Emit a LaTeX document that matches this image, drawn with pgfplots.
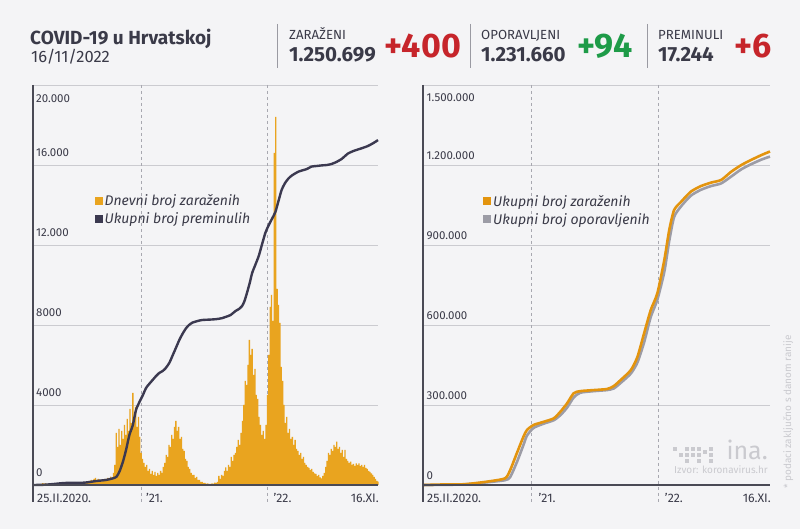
\documentclass[border=0pt]{standalone}
\usepackage{pgfplots}
\pgfplotsset{compat=1.18}
\usepackage{fontspec}
\setmainfont{Fira Sans}
\definecolor{bgc}{HTML}{F4F4F6}
\definecolor{textc}{HTML}{3A3A48}
\definecolor{casec}{HTML}{E9A41F}
\definecolor{deathc}{HTML}{3B3950}
\definecolor{cumc}{HTML}{E3940E}
\definecolor{recc}{HTML}{9C9CA6}
\definecolor{gridc}{HTML}{CBCBD0}
\definecolor{axisc}{HTML}{4A4A55}
\definecolor{dashc}{HTML}{A8A8B0}
\definecolor{redc}{HTML}{C6252B}
\definecolor{greenc}{HTML}{1E9B48}
\definecolor{sepc}{HTML}{9A9AA2}
\definecolor{lightc}{HTML}{CACACF}
\newcommand{\fs}[1]{\fontsize{#1}{#1}\selectfont}
\tikzset{tl/.style={anchor=base west, inner sep=0, text=textc, font=\fs{11.5}},
         tr/.style={anchor=base east, inner sep=0, text=textc, font=\fs{11.5}},
         xl/.style={anchor=base west, inner sep=0, text=textc, font=\fs{12.3}},
         xr/.style={anchor=base east, inner sep=0, text=textc, font=\fs{12.3}}}
\pgfplotsset{myax/.style={anchor=south west, scale only axis, height=400pt,
  xmin=0, xmax=995, ymin=0, axis line style={draw=none}, xtick=\empty,
  yticklabels={}, scaled y ticks=false, major tick length=0pt, ymajorgrids,
  grid style={gridc, line width=0.8pt}, clip=false,
  legend style={anchor=north west, draw=none, fill=none,
    font=\fs{14}\itshape, text=textc, row sep=1.5pt, inner sep=0pt,
    cells={anchor=west}},
  legend image code/.code={\fill[##1, draw=none] (0pt,-4pt) rectangle (8pt,4pt);}}}
\begin{document}
\begin{tikzpicture}[x=1pt,y=1pt]
\fill[bgc] (0pt,0pt) rectangle (800pt,529pt);
% header
\node[anchor=base west, inner sep=0, text=textc, font=\fs{19}\bfseries] at (30pt,484pt) {COVID-19 u Hrvatskoj};
\node[anchor=base west, inner sep=0, text=textc, font=\fs{16.5}] at (31pt,466pt) {16/11/2022};
\draw[sepc, line width=0.8pt] (277pt,505pt) -- (277pt,461pt);
\draw[sepc, line width=0.8pt] (470pt,505pt) -- (470pt,461pt);
\draw[sepc, line width=0.8pt] (647pt,505pt) -- (647pt,461pt);
\node[anchor=base west, inner sep=0, text=textc, font=\fs{13.2}] at (289pt,489pt) {ZARAŽENI};
\node[anchor=base west, inner sep=0, text=textc, font=\fs{20.5}\bfseries] at (289pt,467pt) {1.250.699};
\node[anchor=base west, inner sep=0, text=redc, font=\fs{34}\bfseries] at (384pt,471pt) {+400};
\node[anchor=base west, inner sep=0, text=textc, font=\fs{13.2}] at (481pt,489pt) {OPORAVLJENI};
\node[anchor=base west, inner sep=0, text=textc, font=\fs{20.5}\bfseries] at (481pt,467pt) {1.231.660};
\node[anchor=base west, inner sep=0, text=greenc, font=\fs{34}\bfseries] at (577pt,471pt) {+94};
\node[anchor=base west, inner sep=0, text=textc, font=\fs{13.2}] at (658pt,489pt) {PREMINULI};
\node[anchor=base west, inner sep=0, text=textc, font=\fs{20.5}\bfseries] at (658pt,467pt) {17.244};
\node[anchor=base west, inner sep=0, text=redc, font=\fs{34}\bfseries] at (734pt,471pt) {+6};
% source, logo, note
\node[anchor=base east, inner sep=0, text=lightc, font=\fs{10}] at (768pt,55pt) {Izvor: koronavirus.hr};
\node[anchor=base east, inner sep=0, text=lightc, font=\fs{25}] at (768pt,69pt) {ina.};
\foreach \px/\py in {673/78,679/72,685/78,685/72,691/78,691/72,697/78,697/72,703/75,709/78,709/72,697/66,709/66,685/66}
  \fill[lightc] (\px pt,\py pt) rectangle ++(4pt,4pt);
\node[rotate=90, anchor=base west, inner sep=0, text=lightc, font=\fs{10}] at (791pt,40pt) {* podaci zaključno s danom ranije};
% ---------------- left axis
\begin{axis}[myax, at={(33pt,44pt)}, width=345pt, ymax=20000,
  ytick={0,4000,8000,12000,16000,20000},
  legend style={at={(0.178,0.732)}}]
\draw[dashc, dash pattern=on 3pt off 3pt, line width=0.6pt] (axis cs:311,20000) -- ([yshift=-17pt]axis cs:311,0);
\draw[dashc, dash pattern=on 3pt off 3pt, line width=0.6pt] (axis cs:676,20000) -- ([yshift=-17pt]axis cs:676,0);
\addplot[ybar, bar width=1.3pt, fill=casec, draw=none, forget plot] coordinates {
(0,1)(4,3)(8,8)(12,10)(16,20)(20,40)(24,60)(28,90)(32,70)(36,80)(40,60)(44,50)(48,40)(52,30)(56,20)(60,15)(64,10)(68,5)(72,5)(76,3)(80,2)(84,2)(88,1)(92,3)(96,5)(100,2)(104,5)(108,10)(112,20)(116,60)(120,80)(124,70)(128,90)(132,120)(136,100)(140,80)(144,60)(148,110)(152,140)(156,180)(160,150)(164,200)(168,250)(172,220)(176,300)(180,350)(184,220)(188,300)(192,250)(196,260)(200,180)(204,230)(208,300)(212,240)(216,360)(220,280)(224,420)(228,360)(232,600)
(236,1000)(240,2600)(244,1900)(248,2800)(252,2000)(256,2700)(260,2300)(264,3000)(268,2500)(272,3300)(276,2700)(280,3800)(284,3100)(288,4600)(292,3400)(296,3900)(300,2900)(304,3400)(308,2400)(312,1600)(316,1300)(320,1100)(324,900)(328,1000)(332,700)(336,800)(340,550)(344,700)(348,500)(352,650)(356,450)(360,600)(364,500)(368,700)(372,600)(376,900)(380,1100)(384,1500)(388,1400)(392,2000)(396,1900)(400,2500)(404,2300)(408,2900)(412,3200)(416,2700)(420,2900)(424,2300)(428,2400)(432,1800)(436,1700)(440,1300)(444,1200)(448,900)(452,800)(456,600)(460,500)
(464,500)(468,350)(472,400)(476,250)(480,250)(484,150)(488,150)(492,100)(496,110)(500,70)(504,80)(508,50)(512,60)(516,80)(520,70)(524,120)(528,100)(532,150)(536,460)(540,300)(544,500)(548,450)(552,700)(556,880)(560,700)(564,1000)(568,900)(572,1400)(576,1200)(580,1500)(584,1600)(588,1900)(592,2250)(596,2000)(600,2600)(604,3200)(608,4000)(612,5200)(616,5000)(620,6000)(624,7250)(628,6500)(632,6800)(636,5500)(640,5800)(644,4500)(648,4300)(652,3400)(656,3000)(660,2500)(664,2700)(668,2300)(672,3000)(676,4500)(680,6500)(684,8900)(688,9500)(692,8200)(696,16600)(700,18400)(704,9800)(708,9000)(712,8100)(716,5900)(720,5200)(724,4000)(728,3100)(732,3400)(736,2600)(740,2800)(744,2300)(748,2400)(752,2000)(756,2250)(760,1800)(764,1700)(768,1500)(772,1600)(776,1300)(780,1400)(784,1100)(788,1000)(792,900)(796,850)(800,750)(804,800)(808,650)(812,580)(816,550)(820,450)(824,500)(828,380)(832,330)(836,450)(840,600)(844,900)(848,1200)(852,1600)(856,1500)(860,1800)(864,1700)(868,2000)(872,1900)(876,2170)(880,1800)(884,1900)(888,1600)(892,1750)(896,1400)(900,1750)(904,1300)(908,1200)(912,1100)(916,1170)(920,1000)(924,1050)(928,950)(932,1080)(936,1000)(940,1080)(944,950)(948,1000)(952,900)(956,1000)(960,850)(964,800)(968,700)(972,650)(976,580)(980,500)(984,400)(988,300)(992,200)(995,170)
};
\addplot[deathc, line width=2.4pt, smooth, tension=0.4, forget plot] coordinates {
(0,0)(30,10)(60,50)(90,100)(120,107)(150,120)(183,200)(210,250)(230,330)(241,415)(250,700)(260,1200)(269,1800)(278,2500)(288,3000)(297,3750)(307,4150)(317,4500)(326,4850)(335,5050)(345,5250)(355,5450)(364,5600)(374,5700)(383,5850)(393,6100)(402,6450)(412,6850)(422,7250)(431,7550)(441,7830)(450,8000)(460,8120)(475,8200)(488,8250)(510,8270)(527,8290)(545,8340)(555,8400)(570,8500)(584,8700)(594,8800)(603,8950)(610,9200)(617,9600)(625,10100)(632,10600)(641,11000)(651,11450)(660,12000)(670,12600)(680,13000)(689,13300)(699,13650)(708,14200)(717,14750)(727,15100)(737,15330)(747,15480)(766,15670)(790,15800)(803,15920)(818,15950)(833,15980)(848,16000)(861,16050)(875,16150)(890,16300)(900,16450)(909,16580)(924,16700)(938,16780)(952,16860)(966,16950)(980,17080)(995,17244)
};
\addlegendimage{fill=casec}
\addlegendentry{Dnevni broj zaraženih}
\addlegendimage{fill=deathc}
\addlegendentry{Ukupni broj preminulih}
\draw[axisc, line width=1.2pt] (axis cs:0,20000) -- ([yshift=-17pt]axis cs:0,0);
\draw[axisc, line width=1.5pt] (axis cs:0,0) -- (axis cs:995,0);
\node[tl] at ([xshift=3pt,yshift=8.5pt]axis cs:0,0) {0};
\node[tl] at ([xshift=3pt,yshift=8.5pt]axis cs:0,4000) {4000};
\node[tl] at ([xshift=3pt,yshift=8.5pt]axis cs:0,8000) {8000};
\node[tl] at ([xshift=3pt,yshift=8.5pt]axis cs:0,12000) {12.000};
\node[tl] at ([xshift=3pt,yshift=8.5pt]axis cs:0,16000) {16.000};
\node[tl] at ([xshift=3pt,yshift=-18pt]axis cs:0,20000) {20.000};
\node[xl] at ([xshift=4pt,yshift=-18pt]axis cs:0,0) {25.II.2020.};
\node[xl] at ([xshift=5pt,yshift=-18pt]axis cs:311,0) {’21.};
\node[xl] at ([xshift=6pt,yshift=-18pt]axis cs:676,0) {’22.};
\node[xr] at ([xshift=1pt,yshift=-18pt]axis cs:995,0) {16.XI.};
\end{axis}
% ---------------- right axis
\begin{axis}[myax, at={(423pt,44pt)}, width=347pt, ymax=1500000,
  ytick={0,300000,600000,900000,1200000,1500000},
  legend style={at={(0.173,0.73)}}]
\draw[dashc, dash pattern=on 3pt off 3pt, line width=0.6pt] (axis cs:311,1500000) -- ([yshift=-17pt]axis cs:311,0);
\draw[dashc, dash pattern=on 3pt off 3pt, line width=0.6pt] (axis cs:676,1500000) -- ([yshift=-17pt]axis cs:676,0);
\addplot[recc, line width=2.6pt, smooth, tension=0.4, forget plot] coordinates {
(0,0)(60,500)(120,2500)(183,10000)(235,18000)(250,30000)(269,85000)(288,150000)(298,185000)(317,214000)(346,230000)(375,243000)(394,262000)(413,290000)(432,328000)(451,346000)(490,352000)(528,356000)(547,362000)(567,383000)(596,418000)(615,460000)(634,535000)(653,630000)(672,695000)(692,800000)(706,915000)(720,1005000)(740,1045000)(768,1085000)(797,1107000)(826,1121000)(855,1131000)(884,1157000)(913,1184000)(941,1203000)(970,1220000)(995,1231660)
};
\addplot[cumc, line width=2.6pt, smooth, tension=0.4, forget plot] coordinates {
(0,0)(60,2000)(120,3000)(183,12500)(235,25000)(250,56000)(269,119000)(288,181000)(298,206000)(317,225000)(346,237000)(375,250000)(394,275000)(413,306000)(432,344000)(451,352000)(490,356000)(528,360000)(547,371000)(567,394000)(596,431000)(615,481000)(634,569000)(653,656000)(672,719000)(692,844000)(706,956000)(720,1031000)(740,1062000)(768,1100000)(797,1121000)(826,1134000)(855,1144000)(884,1175000)(913,1200000)(941,1219000)(970,1237000)(995,1250699)
};
\addlegendimage{fill=cumc}
\addlegendentry{Ukupni broj zaraženih}
\addlegendimage{fill=recc}
\addlegendentry{Ukupni broj oporavljenih}
\draw[axisc, line width=1.2pt] (axis cs:0,1500000) -- ([yshift=-17pt]axis cs:0,0);
\draw[axisc, line width=1.5pt] (axis cs:0,0) -- (axis cs:995,0);
\node[tl] at ([xshift=3.5pt,yshift=5.5pt]axis cs:0,0) {0};
\node[tl] at ([xshift=3.5pt,yshift=5.5pt]axis cs:0,300000) {300.000};
\node[tl] at ([xshift=3.5pt,yshift=5.5pt]axis cs:0,600000) {600.000};
\node[tl] at ([xshift=3.5pt,yshift=5.5pt]axis cs:0,900000) {900.000};
\node[tl] at ([xshift=3.5pt,yshift=5.5pt]axis cs:0,1200000) {1.200.000};
\node[tl] at ([xshift=3.5pt,yshift=-16.5pt]axis cs:0,1500000) {1.500.000};
\node[xl] at ([xshift=4pt,yshift=-18pt]axis cs:0,0) {25.II.2020.};
\node[xl] at ([xshift=7pt,yshift=-18pt]axis cs:311,0) {’21.};
\node[xl] at ([xshift=6pt,yshift=-18pt]axis cs:676,0) {’22.};
\node[xr] at ([xshift=1pt,yshift=-18pt]axis cs:995,0) {16.XI.};
\end{axis}
\end{tikzpicture}
\end{document}
